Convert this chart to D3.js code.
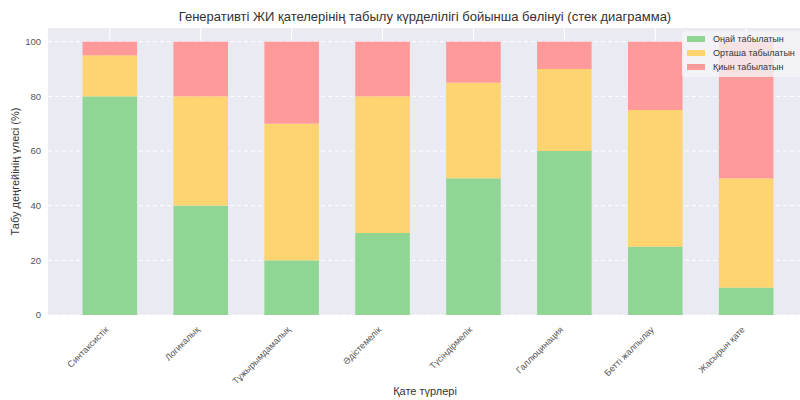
<!DOCTYPE html>
<html>
<head>
<meta charset="utf-8">
<script src="https://cdn.jsdelivr.net/npm/d3@7"></script>
<style>
body { margin: 0; background: #fff; }
text { font-family: "Liberation Sans", Arial, sans-serif; }
</style>
</head>
<body>
<div class="container"></div>
<script>
// categories and series (shares in %)
var categories = ["Синтаксистік", "Логикалық", "Тұжырымдамалық", "Әдістемелік",
                  "Түсіндірмелік", "Галлюцинация", "Бетті жалпылау", "Жасырын қате"];
var easy   = [80, 40, 20, 30, 50, 60, 25, 10];
var medium = [15, 40, 50, 50, 35, 30, 50, 40];
var hard   = [5, 20, 30, 20, 15, 10, 25, 50];
var seriesNames = ["Оңай табылатын", "Орташа табылатын", "Қиын табылатын"];
var seriesColors = ["#8fd694", "#fdd46f", "#ff9a9a"];
var yTicks = [0, 20, 40, 60, 80, 100];

var width = 800, height = 400;
var plotL = 48, plotR = 808, plotT = 28, plotB = 315;

var svg = d3.select(".container").append("svg")
  .attr("width", width).attr("height", height);

var x = d3.scaleLinear().domain([-0.68, categories.length - 1 + 0.68]).range([plotL, plotR]);
var y = d3.scaleLinear().domain([0, 105]).range([plotB, plotT]);
var barW = x(0.6) - x(0);

// plot background
svg.append("rect")
  .attr("x", plotL).attr("y", plotT)
  .attr("width", plotR - plotL).attr("height", plotB - plotT)
  .attr("fill", "#eaeaf2");

// grid
svg.append("g").selectAll("line").data(categories).enter().append("line")
  .attr("x1", function (d, i) { return x(i); })
  .attr("x2", function (d, i) { return x(i); })
  .attr("y1", plotT).attr("y2", plotB)
  .attr("stroke", "#fff").attr("stroke-width", 1);

svg.append("g").selectAll("line").data(yTicks).enter().append("line")
  .attr("x1", plotL).attr("x2", plotR)
  .attr("y1", function (d) { return y(d); })
  .attr("y2", function (d) { return y(d); })
  .attr("stroke", "#fff").attr("stroke-width", 1)
  .attr("stroke-dasharray", "4,3");

// stacked bars
var rows = categories.map(function (c, i) {
  return { cat: c, i: i, s0: easy[i], s1: medium[i], s2: hard[i] };
});
var stack = d3.stack().keys(["s0", "s1", "s2"]);
var layers = stack(rows);

svg.append("g").selectAll("g").data(layers).enter().append("g")
  .attr("fill", function (d, k) { return seriesColors[k]; })
  .selectAll("rect").data(function (d) { return d; }).enter().append("rect")
  .attr("x", function (d) { return x(d.data.i) - barW / 2; })
  .attr("width", barW)
  .attr("y", function (d) { return y(d[1]); })
  .attr("height", function (d) { return y(d[0]) - y(d[1]); });

// y tick labels
svg.append("g").selectAll("text").data(yTicks).enter().append("text")
  .attr("x", plotL - 7)
  .attr("y", function (d) { return y(d); })
  .attr("dy", "0.35em")
  .attr("text-anchor", "end")
  .attr("font-size", 9.5)
  .attr("fill", "#555")
  .text(function (d) { return d; });

// x tick labels, rotated
svg.append("g").selectAll("text").data(categories).enter().append("text")
  .attr("transform", function (d, i) { return "translate(" + (x(i) - 3) + "," + (plotB + 13) + ") rotate(-45)"; })
  .attr("text-anchor", "end")
  .attr("dy", "0.35em")
  .attr("font-size", 9)
  .attr("fill", "#555")
  .text(function (d) { return d; });

// titles
svg.append("text")
  .attr("x", 425).attr("y", 21)
  .attr("text-anchor", "middle")
  .attr("font-size", 13)
  .attr("fill", "#333")
  .text("Генеративті ЖИ қателерінің табылу күрделілігі бойынша бөлінуі (стек диаграмма)");

svg.append("text")
  .attr("x", 425).attr("y", 395)
  .attr("text-anchor", "middle")
  .attr("font-size", 11)
  .attr("fill", "#333")
  .text("Қате түрлері");

svg.append("text")
  .attr("transform", "translate(19," + ((plotT + plotB) / 2) + ") rotate(-90)")
  .attr("text-anchor", "middle")
  .attr("font-size", 11)
  .attr("fill", "#333")
  .text("Табу деңгейінің үлесі (%)");

// legend
var lg = svg.append("g").attr("transform", "translate(682,31)");
lg.append("rect")
  .attr("width", 125).attr("height", 46)
  .attr("rx", 3)
  .attr("fill", "#f4f4f8").attr("fill-opacity", 0.8);
var items = lg.selectAll("g").data(seriesNames).enter().append("g")
  .attr("transform", function (d, k) { return "translate(5," + (8 + k * 14) + ")"; });
items.append("rect")
  .attr("width", 18).attr("height", 6).attr("y", -3)
  .attr("fill", function (d, k) { return seriesColors[k]; });
items.append("text")
  .attr("x", 26).attr("dy", "0.35em")
  .attr("font-size", 9)
  .attr("fill", "#333")
  .text(function (d) { return d; });
</script>
</body>
</html>
